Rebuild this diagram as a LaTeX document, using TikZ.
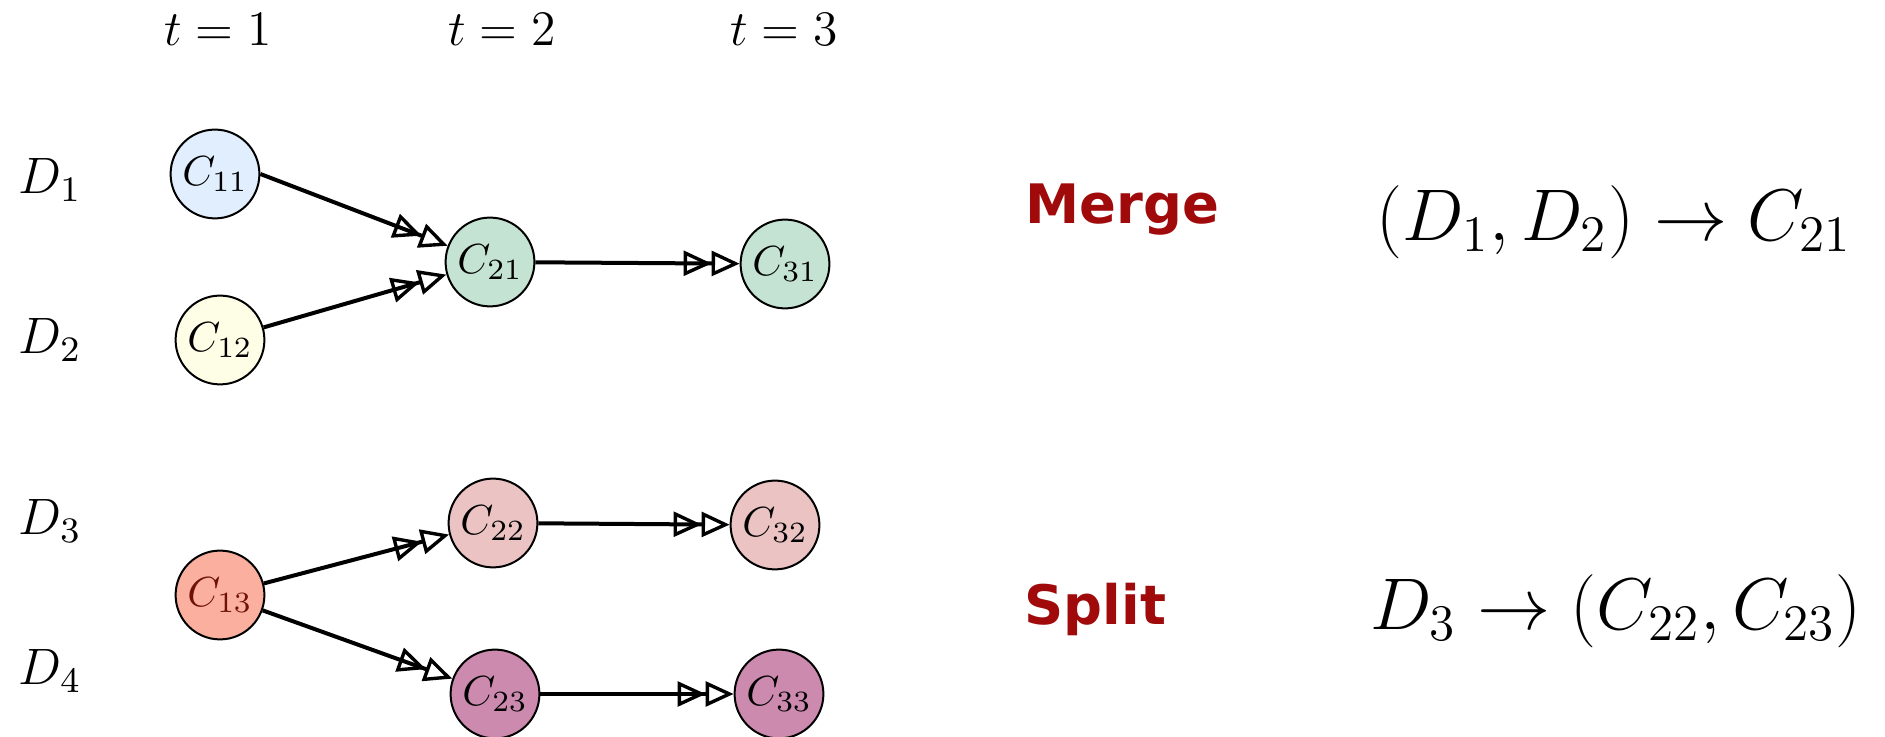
\RequirePackage{fix-cm}
\documentclass[tikz,border=0pt]{standalone}
\usepackage{fontspec}
\newfontfamily\labelsans{DejaVu Sans}
\usetikzlibrary{arrows.meta}
\definecolor{cblue}{HTML}{E0EEFD}
\definecolor{cyellow}{HTML}{FEFDE6}
\definecolor{cgreen}{HTML}{C5E3D2}
\definecolor{cpink}{HTML}{EBC3C3}
\definecolor{csalmon}{HTML}{FBAF9F}
\definecolor{cmauve}{HTML}{CC8AAE}
\definecolor{cdarkred}{HTML}{6E1206}
\definecolor{opred}{HTML}{A00A0A}
\tikzset{
  cnode/.style={circle, draw=black, line width=0.5pt, minimum size=22.2pt, inner sep=0pt, font=\fontsize{10.5}{12}\selectfont},
  tlabel/.style={font=\fontsize{12.4}{15}\selectfont, inner sep=0pt},
  dlabel/.style={font=\fontsize{12.8}{15}\selectfont, inner sep=0pt},
  oplabel/.style={font=\labelsans\bfseries\fontsize{13.6}{17}\selectfont, text=opred, inner sep=0pt, anchor=west},
  formula/.style={font=\fontsize{18.3}{23}\selectfont, inner sep=0pt},
  flow/.style={line width=1pt, -{Triangle[open,length=7pt,width=6.2pt,line width=0.85pt]Triangle[open,length=7pt,width=6.2pt,line width=0.85pt]}}
}
\begin{document}
\begin{tikzpicture}[x=0.25pt,y=-0.25pt]
\useasboundingbox (0,0) rectangle (1885,737);
% time labels
\node[tlabel] (t1) at (218,30) {$t=1$};
\node[tlabel] (t2) at (502,30) {$t=2$};
\node[tlabel] (t3) at (784,30) {$t=3$};
% D labels
\node[dlabel] (d1) at (50,180) {$D_1$};
\node[dlabel] (d2) at (50,340) {$D_2$};
\node[dlabel] (d3) at (50,521) {$D_3$};
\node[dlabel] (d4) at (50,671) {$D_4$};
% nodes
\node[cnode, fill=cblue] (c11) at (215,174) {$C_{11}$};
\node[cnode, fill=cyellow] (c12) at (220,340) {$C_{12}$};
\node[cnode, fill=cgreen] (c21) at (490,262) {$C_{21}$};
\node[cnode, fill=cgreen] (c31) at (785,264) {$C_{31}$};
\node[cnode, fill=cpink] (c22) at (493,523) {$C_{22}$};
\node[cnode, fill=cpink] (c32) at (775,525) {$C_{32}$};
\node[cnode, fill=csalmon, text=cdarkred] (c13) at (220,595) {$C_{13}$};
\node[cnode, fill=cmauve] (c23) at (495,694) {$C_{23}$};
\node[cnode, fill=cmauve] (c33) at (779,694) {$C_{33}$};
% edges
\draw[flow] (c11.east) -- (c21);
\draw[flow] (c12) -- (c21);
\draw[flow] (c21) -- (c31);
\draw[flow] (c13) -- (c22);
\draw[flow] (c13) -- (c23);
\draw[flow] (c22) -- (c32);
\draw[flow] (c23) -- (c33);
% right side
\node[oplabel] (merge) at (1025,210) {Merge};
\node[oplabel] (split) at (1024,609) {Split};
\node[formula] (f1) at (1614,222) {$(D_1,D_2)\rightarrow C_{21}$};
\node[formula] (f2) at (1616,611) {$D_3\rightarrow (C_{22},C_{23})$};
\end{tikzpicture}
\end{document}
